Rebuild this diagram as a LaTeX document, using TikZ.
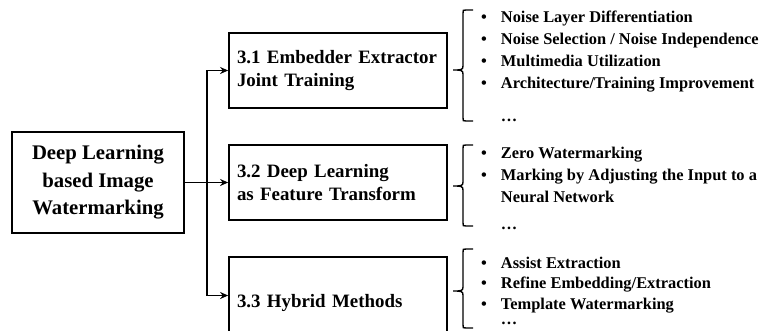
\documentclass[tikz,border=0pt]{standalone}
\usepackage{fontspec}
\setmainfont{Liberation Serif}
\usetikzlibrary{arrows.meta}
\tikzset{
  box/.style={draw, line width=1.8pt, inner sep=0pt},
  mainbox/.style={box, minimum width=172pt, minimum height=101pt, align=center,
    font=\fontsize{20.75}{27.5}\selectfont\bfseries},
  secbox/.style={box, minimum width=218pt, text width=202pt, inner xsep=8pt, align=left,
    font=\fontsize{18.9}{23}\selectfont\bfseries},
  conn/.style={line width=1.8pt, -{Stealth[length=8pt,width=7pt]}},
  brc/.style={line width=1.4pt},
  items/.style={anchor=base west, inner sep=0pt, font=\fontsize{16.4}{22}\selectfont\bfseries}
}
\hyphenpenalty=10000
\exhyphenpenalty=10000
\newcommand{\mybrace}[4]{% x of spine, top, tip, bottom
  \draw[brc] (#1+10,#2) -- (#1+3,#2) .. controls (#1,#2) .. (#1,#2+3) -- (#1,#3-4)
    .. controls (#1,#3) and (#1-2,#3) .. (#1-10,#3)
    .. controls (#1-2,#3) and (#1,#3) .. (#1,#3+4) -- (#1,#4-3)
    .. controls (#1,#4) .. (#1+3,#4) -- (#1+10,#4);}
\begin{document}
\begin{tikzpicture}[x=1pt,y=-1pt]
\useasboundingbox (0,0) rectangle (775,330);
\clip (0,0) rectangle (775,330);
\fill[white] (0,0) rectangle (775,330);

\node[mainbox] (main) at (98,182.5) {Deep Learning\\based Image\\Watermarking};
\node[secbox, minimum height=75pt] (s1) at (338,70.5) {3.1 Embedder Extractor\\Joint Training};
\node[secbox, minimum height=75pt] (s2) at (338,182.5) {3.2 Deep Learning\\as Feature Transform};
\node[secbox, minimum height=77pt] (s3) at (338,295.5) {\raisebox{-12pt}[0pt][0pt]{3.3 Hybrid Methods}};

\coordinate (j) at (207,182.5);
\draw[conn] (main.east) -- (s2.west);
\draw[conn] (j) |- (s1.west);
\draw[conn] (j) |- (s3.west);

\mybrace{463}{10}{70}{121}
\mybrace{463}{145}{186}{226}
\mybrace{463}{249}{291}{328}

\node[items] (l1) at (481,22) {\begin{tabular}[t]{@{}l@{\hspace{14pt}}l@{}}
\textbullet & Noise Layer Differentiation\\
\textbullet & Noise Selection / Noise Independence\\
\textbullet & Multimedia Utilization\\
\textbullet & Architecture/Training Improvement\\[11pt]
 & \dots
\end{tabular}};
\node[items] (l2) at (481,158) {\begin{tabular}[t]{@{}l@{\hspace{14pt}}l@{}}
\textbullet & Zero Watermarking\\
\textbullet & Marking by Adjusting the Input to a\\
 & Neural Network\\[5pt]
 & \dots
\end{tabular}};
\node[items, font=\fontsize{16.4}{20.5}\selectfont\bfseries] (l3) at (481,268) {\begin{tabular}[t]{@{}l@{\hspace{14pt}}l@{}}
\textbullet & Assist Extraction\\
\textbullet & Refine Embedding/Extraction\\
\textbullet & Template Watermarking\\[-5.5pt]
 & \dots
\end{tabular}};
\end{tikzpicture}
\end{document}
